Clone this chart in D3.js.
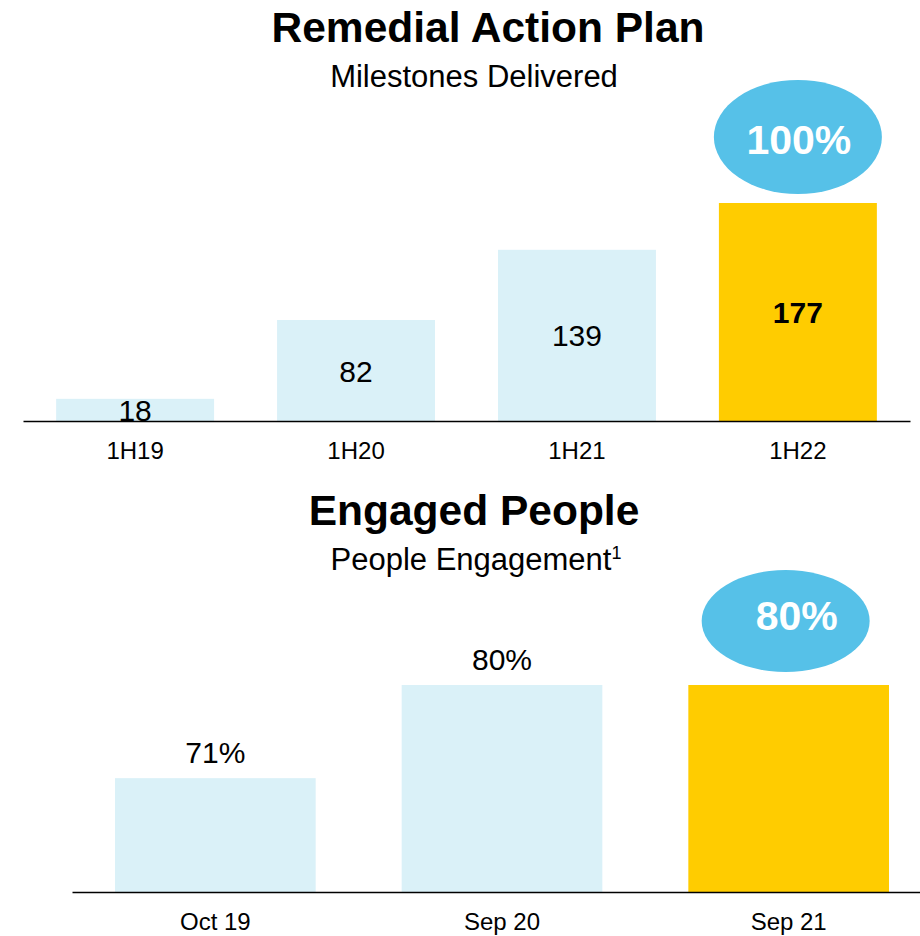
<!DOCTYPE html>
<html>
<head>
<meta charset="utf-8">
<script src="https://cdn.jsdelivr.net/npm/d3@7"></script>
<style>
  body { margin: 0; background: #fff; }
  svg text { font-family: "Liberation Sans", Arial, sans-serif; }
</style>
</head>
<body>
<div id="chart"></div>
<script>
// Remedial Action Plan - milestones delivered
var planCategories = ['1H19', '1H20', '1H21', '1H22'];
var planValues = [18, 82, 139, 177];
var planCallout = '100%';

// Engaged People - engagement score (%)
var peopleCategories = ['Oct 19', 'Sep 20', 'Sep 21'];
var peopleValues = [71, 80, 80];
var peopleCallout = '80%';

var lightBlue = '#daf1f8',
    gold = '#ffcc00',
    bubble = '#56c1e8';

var svg = d3.select('#chart').append('svg')
  .attr('width', 920)
  .attr('height', 936);

// ---------- top chart ----------
var x1 = d3.scaleBand()
  .domain(planCategories)
  .range([23, 910])
  .paddingInner(0.285)
  .paddingOuter(0.15);

var y1 = d3.scaleLinear()
  .domain([0, 177])
  .range([421, 203]);

svg.append('text')
  .attr('x', 488).attr('y', 42)
  .attr('text-anchor', 'middle')
  .style('font-size', '42.5px').style('font-weight', 'bold')
  .text('Remedial Action Plan');

svg.append('text')
  .attr('x', 474).attr('y', 87)
  .attr('text-anchor', 'middle')
  .style('font-size', '31px')
  .text('Milestones Delivered');

var topChart = svg.append('g');

topChart.selectAll('rect')
  .data(planValues)
  .enter().append('rect')
  .attr('x', function(d, i){ return x1(planCategories[i]); })
  .attr('y', function(d){ return y1(d); })
  .attr('width', x1.bandwidth())
  .attr('height', function(d){ return y1(0) - y1(d); })
  .attr('fill', function(d, i){ return i === planValues.length - 1 ? gold : lightBlue; });

topChart.selectAll('text.val')
  .data(planValues)
  .enter().append('text')
  .attr('class', 'val')
  .attr('x', function(d, i){ return x1(planCategories[i]) + x1.bandwidth() / 2; })
  .attr('y', function(d){ return (y1(d) + y1(0)) / 2 + 11; })
  .attr('text-anchor', 'middle')
  .style('font-size', '30px')
  .style('font-weight', function(d, i){ return i === planValues.length - 1 ? 'bold' : 'normal'; })
  .text(function(d){ return d; });

var axis1 = svg.append('g')
  .attr('transform', 'translate(0,421)')
  .call(d3.axisBottom(x1).tickSize(0).tickPadding(21).tickSizeOuter(0));
axis1.select('.domain').attr('stroke', '#000').attr('stroke-width', 1.5);
axis1.selectAll('text')
  .style('font-size', '24px').attr('fill', '#000')
  .style('font-family', '"Liberation Sans", Arial, sans-serif');

// callout bubble over the latest bar
var last1 = planCategories[planCategories.length - 1];
svg.append('ellipse')
  .attr('cx', x1(last1) + x1.bandwidth() / 2)
  .attr('cy', 137)
  .attr('rx', 84).attr('ry', 57)
  .attr('fill', bubble);
svg.append('text')
  .attr('x', x1(last1) + x1.bandwidth() / 2 + 1)
  .attr('y', 154)
  .attr('text-anchor', 'middle')
  .attr('fill', '#fff')
  .style('font-size', '41px').style('font-weight', 'bold')
  .text(planCallout);

// ---------- bottom chart ----------
var x2 = d3.scaleBand()
  .domain(peopleCategories)
  .range([72, 932])
  .paddingInner(0.3)
  .paddingOuter(0.15);

var y2 = d3.scaleLinear()
  .domain([60, 80])
  .range([892, 685]);

svg.append('text')
  .attr('x', 474).attr('y', 525)
  .attr('text-anchor', 'middle')
  .style('font-size', '42.5px').style('font-weight', 'bold')
  .text('Engaged People');

var sub2 = svg.append('text')
  .attr('x', 476).attr('y', 570)
  .attr('text-anchor', 'middle')
  .style('font-size', '31px')
  .text('People Engagement');
sub2.append('tspan')
  .attr('dy', -11)
  .style('font-size', '18px')
  .text('1');

var bottomChart = svg.append('g');

bottomChart.selectAll('rect')
  .data(peopleValues)
  .enter().append('rect')
  .attr('x', function(d, i){ return x2(peopleCategories[i]); })
  .attr('y', function(d){ return y2(d); })
  .attr('width', x2.bandwidth())
  .attr('height', function(d){ return y2(60) - y2(d); })
  .attr('fill', function(d, i){ return i === peopleValues.length - 1 ? gold : lightBlue; });

bottomChart.selectAll('text.val')
  .data(peopleValues.slice(0, peopleValues.length - 1))
  .enter().append('text')
  .attr('class', 'val')
  .attr('x', function(d, i){ return x2(peopleCategories[i]) + x2.bandwidth() / 2; })
  .attr('y', function(d){ return y2(d) - 15; })
  .attr('text-anchor', 'middle')
  .style('font-size', '30px')
  .text(function(d){ return d + '%'; });

var axis2 = svg.append('g')
  .attr('transform', 'translate(0,892)')
  .call(d3.axisBottom(x2).tickSize(0).tickPadding(21).tickSizeOuter(0));
axis2.select('.domain').attr('stroke', '#000').attr('stroke-width', 1.5);
axis2.selectAll('text')
  .style('font-size', '24px').attr('fill', '#000')
  .style('font-family', '"Liberation Sans", Arial, sans-serif');

var last2 = peopleCategories[peopleCategories.length - 1];
svg.append('ellipse')
  .attr('cx', x2(last2) + x2.bandwidth() / 2 - 3)
  .attr('cy', 621)
  .attr('rx', 84).attr('ry', 51)
  .attr('fill', bubble);
svg.append('text')
  .attr('x', x2(last2) + x2.bandwidth() / 2 + 8)
  .attr('y', 630)
  .attr('text-anchor', 'middle')
  .attr('fill', '#fff')
  .style('font-size', '41px').style('font-weight', 'bold')
  .text(peopleCallout);
</script>
</body>
</html>
